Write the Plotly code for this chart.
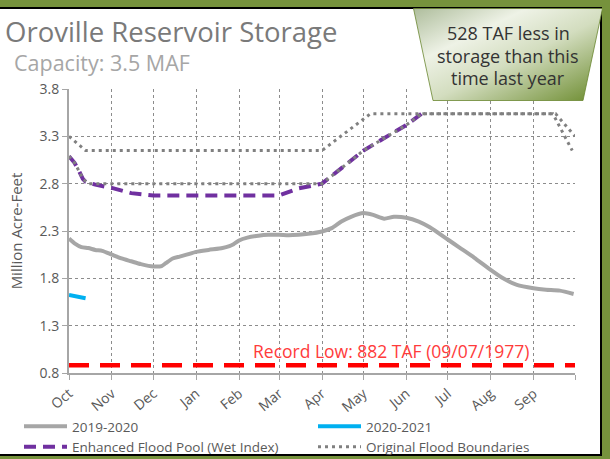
import base64
import plotly.graph_objects as go

# ---------------- data ----------------
month_labels = ["Oct", "Nov", "Dec", "Jan", "Feb", "Mar", "Apr", "May", "Jun",
                "Jul", "Aug", "Sep", ""]
month_ticks = ["2019-10-01", "2019-11-01", "2019-12-01", "2020-01-01", "2020-02-01",
               "2020-03-01", "2020-04-01", "2020-05-01", "2020-06-01", "2020-07-01",
               "2020-08-01", "2020-09-01", "2020-10-01"]

wy2020_dates = ["2019-10-01", "2019-10-05", "2019-10-10", "2019-10-15", "2019-10-20",
                "2019-10-25", "2019-11-01", "2019-11-08", "2019-11-15", "2019-11-22",
                "2019-12-01", "2019-12-07", "2019-12-10", "2019-12-15", "2019-12-20",
                "2019-12-25", "2020-01-01", "2020-01-10", "2020-01-20", "2020-01-25",
                "2020-01-28", "2020-02-01", "2020-02-07", "2020-02-15", "2020-02-22",
                "2020-03-01", "2020-03-08", "2020-03-15", "2020-03-22", "2020-04-01",
                "2020-04-08", "2020-04-15", "2020-04-22", "2020-05-01", "2020-05-08",
                "2020-05-16", "2020-05-23", "2020-06-01", "2020-06-10", "2020-06-18",
                "2020-07-01", "2020-07-10", "2020-07-20", "2020-08-01", "2020-08-10",
                "2020-08-20", "2020-09-01", "2020-09-10", "2020-09-20", "2020-09-30"]
wy2020_maf = [2.22, 2.17, 2.13, 2.12, 2.10,
              2.09, 2.05, 2.01, 1.98, 1.95,
              1.925, 1.93, 1.96, 2.01, 2.03,
              2.05, 2.08, 2.10, 2.12, 2.14,
              2.16, 2.20, 2.23, 2.25, 2.26,
              2.26, 2.255, 2.26, 2.27, 2.295,
              2.33, 2.40, 2.45, 2.49, 2.47,
              2.43, 2.45, 2.44, 2.40, 2.34,
              2.21, 2.12, 2.02, 1.89, 1.80,
              1.73, 1.695, 1.68, 1.67, 1.635]

# 2020-2021 water year, plotted on the same Oct-Sep axis
wy2021_dates = ["2019-10-01", "2019-10-04", "2019-10-07", "2019-10-10", "2019-10-13"]
wy2021_maf = [1.625, 1.615, 1.605, 1.598, 1.59]

enhanced_dates = ["2019-10-01", "2019-10-05", "2019-10-08", "2019-10-11", "2019-10-13",
                  "2019-10-20", "2019-11-01", "2019-11-15", "2019-12-01", "2020-03-01",
                  "2020-03-15", "2020-03-22", "2020-04-01", "2020-05-01", "2020-06-01",
                  "2020-06-12"]
enhanced_maf = [3.09, 3.02, 2.94, 2.85, 2.82,
                2.79, 2.755, 2.70, 2.675, 2.675,
                2.75, 2.775, 2.80, 3.15, 3.42,
                3.538]

orig_upper_dates = ["2019-10-01", "2019-10-13", "2020-04-01", "2020-05-06",
                    "2020-09-17", "2020-10-01"]
orig_upper_maf = [3.30, 3.15, 3.15, 3.538, 3.538, 3.30]
orig_lower_dates = ["2019-10-01", "2019-10-05", "2019-10-08", "2019-10-11",
                    "2019-10-15", "2020-04-01", "2020-05-01", "2020-06-01",
                    "2020-06-12", "2020-09-15", "2020-09-29"]
orig_lower_maf = [3.09, 3.02, 2.94, 2.85, 2.80, 2.80, 3.15, 3.42, 3.538, 3.538, 3.15]

record_low_maf = 0.882
record_low_text = "Record Low: 882 TAF (09/07/1977)"
record_low_label_date = "2020-05-21"
callout_lines = ["528 TAF less in", "storage than this", "time last year"]

# ---------------- layout geometry ----------------
W, H = 610, 459
L, R, T, B = 69, 35, 89, 86
PW, PH = W - L - R, H - T - B


def px(x):
    return (x - L) / PW


def py(y):
    return 1 - (y - T) / PH


FONT = "Open Sans"
TXT = "#595959"

fig = go.Figure()

fig.add_trace(go.Scatter(x=wy2020_dates, y=wy2020_maf, name="2019-2020", mode="lines",
                         legend="legend",
                         line=dict(color="#a6a6a6", width=4, shape="spline", smoothing=0.6)))
fig.add_trace(go.Scatter(x=wy2021_dates, y=wy2021_maf, name="2020-2021", mode="lines",
                         legend="legend2",
                         line=dict(color="#00b0f0", width=4)))
fig.add_trace(go.Scatter(x=enhanced_dates, y=enhanced_maf, name="Enhanced Flood Pool (Wet Index)",
                         mode="lines", legend="legend",
                         line=dict(color="#7030a0", width=4, dash="12px,7px")))
fig.add_trace(go.Scatter(x=orig_upper_dates + [None] + orig_lower_dates,
                         y=orig_upper_maf + [None] + orig_lower_maf,
                         name="Original Flood Boundaries", mode="lines", legend="legend2",
                         line=dict(color="#808080", width=3, dash="3px,4px")))
fig.add_trace(go.Scatter(x=[month_ticks[0], month_ticks[-1]],
                         y=[record_low_maf, record_low_maf], mode="lines", showlegend=False,
                         line=dict(color="#ff0000", width=4.5, dash="20px,11px")))

fig.add_annotation(x=record_low_label_date, y=record_low_maf, yshift=0, text=record_low_text,
                   showarrow=False, xanchor="center", yanchor="bottom",
                   font=dict(family=FONT, size=17.5, color="#ff3b3b"))

# background frame
fig.add_shape(type="rect", xref="paper", yref="paper", x0=px(-5), x1=px(601),
              y0=py(455), y1=py(8), fillcolor="white", line=dict(color="black", width=2),
              layer="below")

# callout trapezoid (gradient) as svg image
svg = ('<svg xmlns="http://www.w3.org/2000/svg" width="190" height="93" viewBox="0 0 190 93" '
       'preserveAspectRatio="none"><defs><linearGradient id="g" x1="0" y1="0" x2="1" y2="1">'
       '<stop offset="0" stop-color="#aebd9c"/><stop offset="0.3" stop-color="#eef2e6"/>'
       '<stop offset="0.55" stop-color="#d3ddbf"/><stop offset="1" stop-color="#6a8a2c"/>'
       '</linearGradient></defs><polygon points="0.5,0.5 189.5,0.5 170,92.5 20,92.5" '
       'fill="url(#g)" stroke="#6a8630" stroke-width="0.8"/></svg>')
src = "data:image/svg+xml;base64," + base64.b64encode(svg.encode()).decode()
fig.add_layout_image(source=src, xref="paper", yref="paper", x=px(413), y=py(8),
                     sizex=190 / PW, sizey=93 / PH, xanchor="left", yanchor="top",
                     sizing="stretch", layer="above")
for i, line in enumerate(callout_lines):
    fig.add_annotation(xref="paper", yref="paper", x=px(508), y=py(33 + 22.5 * i),
                       text=line, showarrow=False, xanchor="center", yanchor="middle",
                       font=dict(family=FONT, size=18, color="#333333"))

fig.add_annotation(xref="paper", yref="paper", x=px(3), y=py(31), text="Oroville Reservoir Storage",
                   showarrow=False, xanchor="left", yanchor="middle",
                   font=dict(family=FONT, size=27.5, color="#7a7a7a"))
fig.add_annotation(xref="paper", yref="paper", x=px(12), y=py(63), text="Capacity: 3.5 MAF",
                   showarrow=False, xanchor="left", yanchor="middle",
                   font=dict(family=FONT, size=21.5, color="#a6a6a6"))

fig.update_xaxes(type="date", range=[month_ticks[0], month_ticks[-1]],
                 tickmode="array", tickvals=month_ticks, ticktext=month_labels,
                 tickangle=-40, showgrid=True, gridcolor="#8c8c8c", griddash="dot", gridwidth=1,
                 showline=True, linecolor="#a6a6a6", linewidth=2,
                 ticks="outside", ticklen=5, tickcolor="#a6a6a6",
                 tickfont=dict(family=FONT, size=14, color=TXT), zeroline=False)
fig.update_yaxes(range=[0.8, 3.8], tick0=0.8, dtick=0.5, tickformat=".1f",
                 showgrid=True, gridcolor="#8c8c8c", griddash="dot", gridwidth=1,
                 showline=True, linecolor="#a6a6a6", linewidth=2,
                 ticks="outside", ticklen=5, tickcolor="#a6a6a6",
                 tickfont=dict(family=FONT, size=14, color=TXT), zeroline=False,
                 title=dict(text="Million Acre-Feet", standoff=13,
                            font=dict(family=FONT, size=15, color=TXT)))

legend_common = dict(orientation="v", xanchor="left", yanchor="top", itemwidth=43,
                     bgcolor="rgba(0,0,0,0)", tracegroupgap=0,
                     font=dict(family=FONT, size=13.5, color=TXT))
fig.update_layout(width=W, height=H, margin=dict(l=L, r=R, t=T, b=B, autoexpand=False),
                  paper_bgcolor="#76923c", plot_bgcolor="white",
                  showlegend=True,
                  legend=dict(x=px(19), y=py(411), **legend_common),
                  legend2=dict(x=px(313), y=py(411), **legend_common))

fig.write_html("out.html", post_script="document.body.style.margin='0px';",
               config={"displayModeBar": False})
